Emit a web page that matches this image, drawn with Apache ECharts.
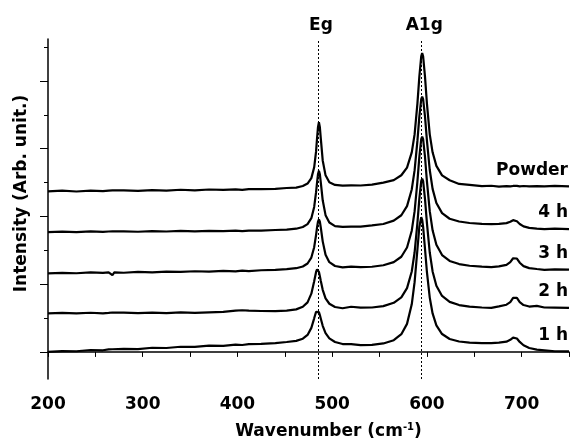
<!DOCTYPE html>
<html>
<head>
<meta charset="utf-8">
<title>Raman spectra</title>
<script src="https://cdn.jsdelivr.net/npm/echarts@6/dist/echarts.min.js"></script>
<style>
  html, body { margin: 0; padding: 0; background: #fff; }
  #chart { width: 571px; height: 440px; }
</style>
</head>
<body>
<div id="chart"></div>
<script>
const wavenumbers = [200, 215, 230, 245, 258, 264, 266, 268, 270, 280, 295, 310, 325, 340, 355, 370, 385, 398, 405, 412,
  425, 440, 452, 462, 469, 474, 478, 481, 483, 484, 485, 486, 487, 488, 490, 493, 497, 503, 511, 520,
  530, 542, 554, 565, 573, 579, 584, 587, 590, 592, 594, 595, 596, 598, 600, 603, 606, 610, 616, 624,
  634, 645, 658, 668, 676, 684, 688, 691, 693, 695, 698, 702, 708, 716, 724, 735, 750];

// intensities, already stacked with their offsets (arb. units)
const powder = [237.0, 238.0, 236.8, 238.1, 237.3, 238.2, 237.6, 238.4, 237.8, 238.6, 237.7, 238.9, 238.2, 239.4, 238.6, 239.8, 239.1, 240.0, 239.3, 240.3,
  240.4, 240.6, 242.0, 242.6, 244.9, 248.6, 256.6, 272.6, 296.0, 315.0, 331.6, 339.0, 331.6, 315.0, 282.7, 260.7, 250.4, 246.5, 245.5, 245.8,
  245.7, 247.0, 250.0, 253.6, 260.8, 272.1, 294.5, 321.1, 367.0, 406.1, 436.5, 441.1, 436.5, 406.1, 367.1, 321.2, 294.7, 274.7, 260.7, 253.4,
  248.0, 246.6, 244.7, 245.3, 244.1, 244.9, 244.4, 245.0, 244.6, 245.1, 244.5, 245.0, 244.3, 244.8, 244.3, 245.1, 244.4];

const h4 = [177.0, 177.6, 176.8, 177.9, 177.1, 177.8, 177.3, 177.9, 177.4, 178.1, 177.4, 178.4, 177.8, 178.6, 178.0, 178.8, 178.2, 179.0, 178.3, 179.1,
  179.0, 180.0, 180.5, 181.9, 184.4, 188.6, 197.4, 214.0, 235.8, 249.7, 262.2, 267.3, 262.2, 249.9, 223.9, 201.9, 191.0, 185.8, 184.5, 184.9,
  185.0, 186.7, 188.9, 193.9, 201.8, 215.3, 239.9, 268.0, 311.9, 347.1, 373.1, 377.0, 373.2, 347.3, 312.3, 268.6, 240.7, 219.9, 204.9, 196.6,
  192.5, 190.3, 189.1, 188.6, 189.0, 190.1, 192.1, 194.5, 195.0, 192.9, 188.9, 185.3, 183.1, 182.1, 181.3, 181.9, 181.4];

const h3 = [116.0, 116.7, 116.1, 117.3, 116.6, 117.4, 119.6, 113.2, 117.5, 116.9, 118.1, 117.5, 118.6, 118.1, 119.1, 118.5, 119.6, 119.0, 119.9, 119.3,
  120.6, 121.1, 122.3, 123.6, 126.1, 130.5, 139.3, 154.6, 172.9, 183.5, 192.2, 195.7, 192.2, 183.5, 163.2, 143.5, 132.5, 126.9, 124.8, 126.0,
  125.2, 125.7, 128.0, 132.5, 140.5, 154.1, 179.0, 207.4, 252.0, 287.7, 314.1, 318.0, 314.1, 287.8, 252.1, 207.8, 179.5, 158.3, 143.0, 134.3,
  129.7, 127.2, 125.9, 125.3, 126.2, 128.5, 132.6, 138.3, 140.3, 137.9, 131.7, 126.7, 123.7, 122.4, 121.2, 121.9, 121.4];

const h2 = [57.0, 57.6, 56.8, 57.8, 57.0, 57.6, 60.4, 58.2, 57.2, 57.9, 57.2, 58.1, 57.4, 58.3, 57.6, 58.5, 59.1, 60.9, 61.5, 61.0,
  60.4, 60.3, 60.9, 62.8, 66.6, 73.2, 86.0, 104.4, 118.1, 121.9, 122.0, 118.2, 111.9, 104.7, 91.7, 79.1, 71.1, 66.3, 64.5, 66.7,
  65.3, 65.6, 67.6, 72.5, 80.5, 94.1, 118.7, 146.8, 190.7, 225.9, 252.0, 256.0, 252.1, 225.7, 190.6, 146.8, 118.8, 97.8, 82.6, 73.9,
  69.2, 66.9, 65.6, 65.1, 67.3, 69.7, 73.4, 79.7, 82.0, 79.8, 73.6, 69.2, 67.0, 68.0, 65.6, 65.4, 64.9];

const h1 = [0.0, 1.2, 1.0, 2.8, 2.4, 3.7, 3.0, 3.9, 3.2, 4.6, 4.2, 6.1, 5.8, 7.6, 7.3, 9.2, 8.8, 10.7, 10.2, 11.4,
  11.9, 12.9, 14.6, 16.3, 19.5, 25.1, 35.5, 49.6, 59.2, 61.8, 61.7, 58.8, 54.3, 49.0, 38.5, 27.6, 19.9, 14.6, 11.6, 11.6,
  10.1, 10.3, 12.5, 17.3, 26.1, 41.4, 70.2, 103.0, 151.6, 184.4, 198.8, 195.1, 184.6, 151.9, 118.0, 80.2, 56.8, 39.3, 26.4, 19.1,
  15.4, 13.7, 13.1, 12.9, 13.7, 15.1, 17.8, 21.1, 22.0, 19.8, 14.7, 9.8, 5.8, 3.3, 2.4, 1.0, 0.9];

const sampleNames = ['Powder', '4 h', '3 h', '2 h', '1 h'];
const traces = [powder, h4, h3, h2, h1];

const peakNames = ['Eg', 'A1g'];
const peakPositions = [485, 594];

const xTickValues = [200, 250, 300, 350, 400, 450, 500, 550, 600, 650, 700, 750];
const xLabelValues = [200, 300, 400, 500, 600, 700];
const yMajorTicks = [0, 100, 200, 300, 400];
const yMinorTicks = [50, 150, 250, 350, 450];

const font = 'DejaVu Sans';
const black = '#000';

const chart = echarts.init(document.getElementById('chart'));

const series = traces.map((values, i) => {
  const last = values.length - 1;
  const s = {
    name: sampleNames[i],
    type: 'line',
    data: values.map((v, j) => [wavenumbers[j], v]),
    showSymbol: false,
    symbol: 'none',
    lineStyle: { color: black, width: 2.2 },
    itemStyle: { color: black },
    markPoint: {
      symbol: 'circle',
      symbolSize: 0,
      itemStyle: { color: 'transparent' },
      label: {
        show: true,
        position: 'inside',
        align: 'right',
        verticalAlign: 'middle',
        offset: [-1, -16],
        formatter: sampleNames[i],
        color: black,
        fontFamily: font,
        fontWeight: 'bold',
        fontSize: 17
      },
      data: [{ coord: [wavenumbers[last], values[last]] }]
    }
  };
  if (i === 0) {
    s.markLine = {
      silent: true,
      symbol: 'none',
      lineStyle: { color: black, type: [2, 2], width: 1 },
      label: {
        show: true,
        position: 'end',
        formatter: '{b}',
        distance: 5,
        padding: [0, 0, 0, 6],
        color: black,
        fontFamily: font,
        fontWeight: 'bold',
        fontSize: 17
      },
      data: peakPositions.map((p, k) => ({ xAxis: p, name: peakNames[k] }))
    };
  }
  return s;
});

const option = {
  backgroundColor: '#fff',
  animation: false,
  grid: { left: 48, right: 2, top: 39, bottom: 61, outerBoundsMode: 'none' },
  xAxis: {
    type: 'value',
    min: 200,
    max: 750,
    interval: 50,
    name: 'Wavenumber (cm{sup|-1})',
    nameLocation: 'middle',
    nameGap: 43,
    nameTextStyle: {
      color: black,
      fontFamily: font,
      fontWeight: 'bold',
      fontSize: 17,
      lineHeight: 20,
      padding: [0, 0, 0, 40],
      rich: {
        sup: { fontFamily: font, fontWeight: 'bold', fontSize: 10, lineHeight: 10, verticalAlign: 'top', color: black }
      }
    },
    axisLine: { lineStyle: { color: black, width: 1.5 } },
    axisTick: { length: 5, customValues: xTickValues, lineStyle: { color: black, width: 1 } },
    axisLabel: {
      customValues: xLabelValues,
      margin: 17,
      color: black,
      fontFamily: font,
      fontWeight: 'bold',
      fontSize: 17
    },
    splitLine: { show: false }
  },
  yAxis: [
    {
      type: 'value',
      min: -40,
      max: 462,
      name: 'Intensity (Arb. unit.)',
      nameLocation: 'middle',
      nameGap: 18,
      nameTextStyle: {
        color: black,
        fontFamily: font,
        fontWeight: 'bold',
        fontSize: 17,
        padding: [0, 0, 0, 31]
      },
      axisLine: { show: true, lineStyle: { color: black, width: 1.5 } },
      axisTick: { show: true, length: 8, customValues: yMajorTicks, lineStyle: { color: black, width: 1 } },
      axisLabel: { show: false },
      splitLine: { show: false }
    },
    {
      type: 'value',
      min: -40,
      max: 462,
      position: 'left',
      axisLine: { show: false },
      axisTick: { show: true, length: 4, customValues: yMinorTicks, lineStyle: { color: black, width: 1 } },
      axisLabel: { show: false },
      splitLine: { show: false }
    }
  ],
  series: series
};

chart.setOption(option);
</script>
</body>
</html>
